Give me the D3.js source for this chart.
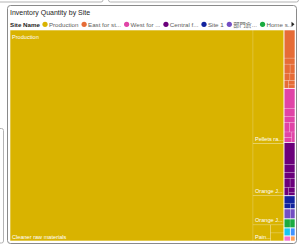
<!DOCTYPE html>
<html>
<head>
<meta charset="utf-8">
<script src="https://cdn.jsdelivr.net/npm/d3@7"></script>
<style>
  body { margin: 0; background: #fff; }
  svg { display: block; font-family: "Liberation Sans", Arial, "Noto Sans CJK JP", sans-serif; }
</style>
</head>
<body>
<div id="chart"></div>
<script>
var svgWidth = 300;
var svgHeight = 245;

// sites, in legend order
var sites = ["Production", "East for storage", "West for storage", "Central facility",
  "Site 1", "部門倉庫", "Home store", "North site", "South site", "Outlet", "Depot"];
var legendLabels = ["Production", "East for st...", "West for ...", "Central f...",
  "Site 1", "部門倉...", "Home s..."];
var siteColors = ["#D9B300", "#E66C37", "#E044A7", "#6B007B", "#12239E", "#744EC2",
  "#1AAB40", "#15C6F4", "#4092FF", "#F472D0", "#FFA058"];

// products stored at Production
var productionItems = ["Cleaner raw materials", "Pellets raw materials", "Orange Juice",
  "Orange Juice concentrate", "Paint thinner", "Pallets", "Packaging"];
var productionQty = [51030, 3503, 1612, 899, 280, 108, 108];

// quantities per product for the other sites
var otherSiteQty = [
  [308, 66, 55, 44, 44, 38, 33, 28, 22],
  [220, 88, 66, 55, 50, 44, 38, 33],
  [242, 88, 66, 55, 44, 38, 28, 22],
  [88, 33, 22],
  [66, 44],
  [55, 44],
  [50],
  [38],
  [33],
  [22]
];

var margin = { top: 30, right: 5, bottom: 4, left: 10 };
var width = svgWidth - margin.left - margin.right;
var height = svgHeight - margin.top - margin.bottom;

var svg = d3.select("#chart")
  .append("svg")
  .attr("width", svgWidth)
  .attr("height", svgHeight);

// bits of the neighbouring visuals on the report page
svg.append("rect").attr("x", -5).attr("y", -10).attr("width", 108).attr("height", 12)
  .attr("rx", 2).attr("fill", "none").attr("stroke", "#b3b3b3");
svg.append("rect").attr("x", 108.5).attr("y", -10).attr("width", 190).attr("height", 12)
  .attr("rx", 2).attr("fill", "none").attr("stroke", "#b3b3b3");
svg.append("rect").attr("x", -10).attr("y", 128.5).attr("width", 13.5).attr("height", 114.5)
  .attr("rx", 2).attr("fill", "none").attr("stroke", "#b3b3b3");

// visual frame
svg.append("rect")
  .attr("x", 7.5).attr("y", 5.5)
  .attr("width", 289).attr("height", 238)
  .attr("rx", 3)
  .attr("fill", "#fff")
  .attr("stroke", "#8a8a8a");

// title
svg.append("text")
  .attr("x", 10)
  .attr("y", 14.5)
  .attr("font-size", "7px")
  .attr("fill", "#252423")
  .text("Inventory Quantity by Site");

// legend
var legend = svg.append("g").attr("transform", "translate(0, 26.5)");
var lx = 10;
var head = legend.append("text")
  .attr("x", lx)
  .attr("font-size", "6.2px")
  .attr("font-weight", "bold")
  .attr("fill", "#252423")
  .text("Site Name");
lx += head.node().getComputedTextLength() + 2.5;

legendLabels.forEach(function(label, i) {
  legend.append("circle")
    .attr("cx", lx + 2.6)
    .attr("cy", -2.2)
    .attr("r", 2.6)
    .attr("fill", siteColors[i]);
  var t = legend.append("text")
    .attr("x", lx + 6.5)
    .attr("font-size", "6.2px")
    .attr("fill", "#605E5C")
    .text(label);
  lx += 6.5 + t.node().getComputedTextLength() + 3;
});

legend.append("path")
  .attr("d", "M291.5,-4.8 L294.5,-2.3 L291.5,0.2 Z")
  .attr("fill", "#252423");

// hierarchy
var rootData = {
  name: "root",
  children: sites.map(function(s, i) {
    if (i === 0) {
      return {
        name: s,
        children: productionItems.map(function(p, j) {
          return { name: p, value: productionQty[j] };
        })
      };
    }
    return {
      name: s,
      children: otherSiteQty[i - 1].map(function(q, j) {
        return { name: s + " item " + (j + 1), value: q };
      })
    };
  })
};

var root = d3.hierarchy(rootData)
  .sum(function(d) { return d.value || 0; })
  .sort(function(a, b) { return b.value - a.value; });

d3.treemap()
  .size([width, height])
  .tile(d3.treemapSquarify.ratio(1))
  .round(false)(root);

var colorScale = d3.scaleOrdinal().domain(sites).range(siteColors);

var chartGroup = svg.append("g")
  .attr("transform", `translate(${margin.left}, ${margin.top})`);

// leaves
chartGroup.selectAll("rect.leaf")
  .data(root.leaves())
  .enter()
  .append("rect")
  .attr("class", "leaf")
  .attr("x", d => d.x0)
  .attr("y", d => d.y0)
  .attr("width", d => d.x1 - d.x0)
  .attr("height", d => d.y1 - d.y0)
  .attr("fill", d => colorScale(d.parent.data.name))
  .attr("stroke", "rgba(255,255,255,0.3)")
  .attr("stroke-width", 0.5);

// site outlines
chartGroup.selectAll("rect.site")
  .data(root.children)
  .enter()
  .append("rect")
  .attr("class", "site")
  .attr("x", d => d.x0)
  .attr("y", d => d.y0)
  .attr("width", d => d.x1 - d.x0)
  .attr("height", d => d.y1 - d.y0)
  .attr("fill", "none")
  .attr("stroke", "rgba(255,255,255,0.8)")
  .attr("stroke-width", 0.6);

// fit a label into a width, cutting it with "..."
function fitText(sel, text, maxW) {
  sel.text(text);
  if (sel.node().getComputedTextLength() <= maxW) return;
  for (var n = text.length - 1; n > 0; n--) {
    sel.text(text.slice(0, n).trim() + "...");
    if (sel.node().getComputedTextLength() <= maxW) return;
  }
}

// site labels
root.children.forEach(function(d) {
  if (d.x1 - d.x0 < 30 || d.y1 - d.y0 < 20) return;
  var t = chartGroup.append("text")
    .attr("x", d.x0 + 2)
    .attr("y", d.y0 + 8.5)
    .attr("font-size", "5.6px")
    .attr("fill", "#fff");
  fitText(t, d.data.name, d.x1 - d.x0 - 4);
});

// product labels
root.leaves().forEach(function(d) {
  if (d.x1 - d.x0 < 13 || d.y1 - d.y0 < 11) return;
  var t = chartGroup.append("text")
    .attr("x", d.x0 + 2)
    .attr("y", d.y1 - 2.5)
    .attr("font-size", "5.6px")
    .attr("fill", "#fff");
  fitText(t, d.data.name, d.x1 - d.x0 - 1);
});
</script>
</body>
</html>
